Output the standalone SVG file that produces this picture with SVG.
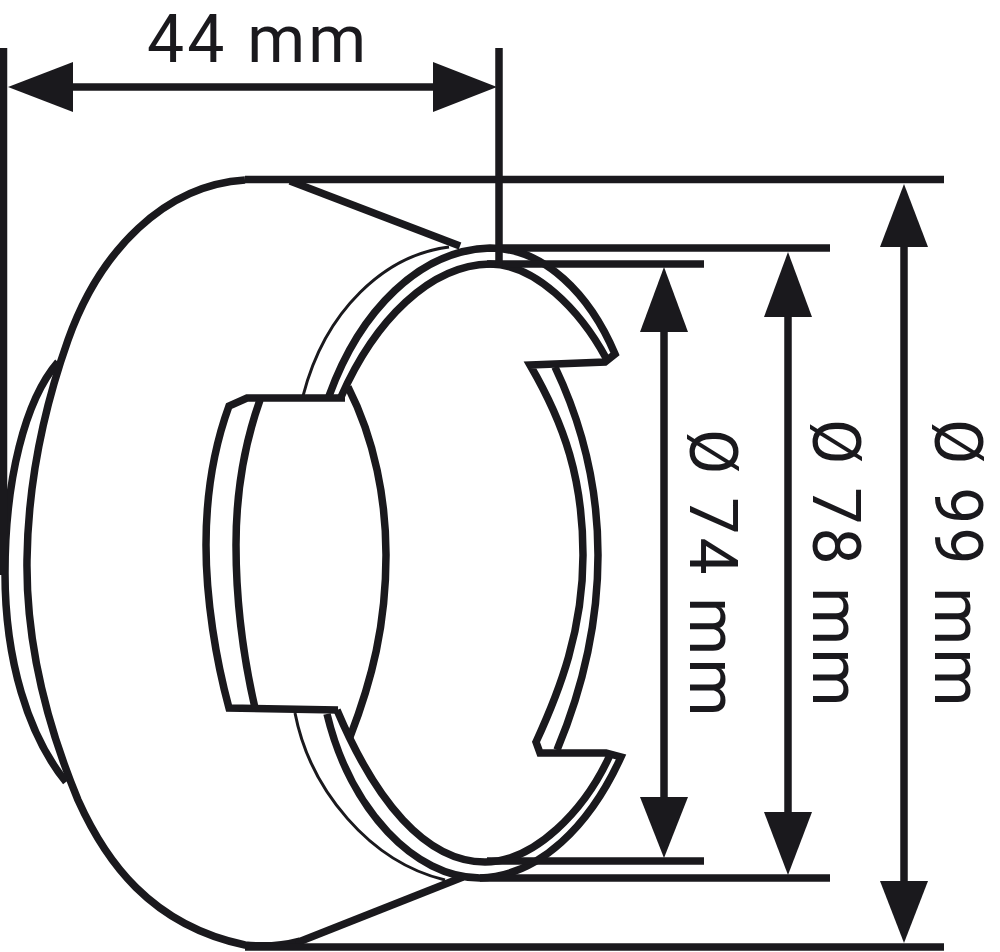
<svg xmlns="http://www.w3.org/2000/svg" width="1000" height="952" viewBox="0 0 1000 952">
<style>
.k{fill:none;stroke:#1a191d;stroke-width:7.5;stroke-linejoin:miter;stroke-linecap:butt}
.t{fill:none;stroke:#1a191d;stroke-width:3}
.d{fill:none;stroke:#1a191d;stroke-width:7.5}
.a{fill:#1a191d}
text{font-family:Roboto,"Open Sans",sans-serif;font-size:66px;letter-spacing:3.2px;fill:#1a191d}
</style>
<rect width="1000" height="952" fill="#fff"/>
<g id="body">
<path class="k" d="M245 180C165 185 100 250 68 340C45 405 28 480 27 560C26 640 45 720 78 800C105 860 150 925 245 945C265 947 285 945 300 941"/>
<path class="k" d="M58 362C25 400 5 480 5 573C5 660 28 735 66 782"/>
<path class="k" d="M290 181L460 246"/>
<path class="k" d="M296 943L463 877"/>
</g>
<g id="ring">
<path class="t" d="M303 396C325 310 385 255 449 247"/>
<path class="t" d="M295 713C310 790 370 862 445 880"/>
<path class="k" d="M329 396C360 310 420 250 490 248C545 248 590 295 615 354L605 362L530 365C565 425 583 480 583 555C583 630 560 690 536 742L540 753H606L621 757C590 825 540 876 480 878C415 878 350 810 327 714"/>
<path class="k" d="M341 397C375 320 430 265 490 264C535 264 580 310 606 358"/>
<path class="k" d="M555 367C585 430 598 490 598 555C598 630 580 695 557 750"/>
<path class="k" d="M337 710C375 800 425 862 485 862C535 862 585 810 610 755"/>
</g>
<g id="window">
<path class="k" d="M348 387C375 440 386 500 386 555C386 625 372 680 350 737"/>
<path class="k" d="M345 398H247L229 406C213 450 206 500 206 545C206 600 216 660 229 708L338 710"/>
<path class="k" d="M260 400C244 445 236 495 236 545C236 600 244 660 255 708"/>
</g>
<g id="connectors">
<path class="d" d="M245 179.500H944"/>
<path class="d" d="M245 947H944"/>
<path class="d" d="M487 264H704"/>
<path class="d" d="M500 248H830"/>
<path class="d" d="M480 878H830"/>
<path class="d" d="M487 861H704"/>
<path class="d" d="M499 48V266"/>
<path class="d" d="M3.500 48V575"/>
<path class="d" d="M60 87H445"/>
<path class="d" d="M904 240V885"/>
<path class="d" d="M788 310V820"/>
<path class="d" d="M664 325V805"/>
<path class="a" d="M8 87L73 62V112Z"/>
<path class="a" d="M497 87L433 62V112Z"/>
<path class="a" d="M904 184L880 247H928Z"/>
<path class="a" d="M904 943L880 881H928Z"/>
<path class="a" d="M788 252L764 317H812Z"/>
<path class="a" d="M788 875L764 812H812Z"/>
<path class="a" d="M664 267L640 332H688Z"/>
<path class="a" d="M664 858L640 797H688Z"/>
</g>
<g id="labels">
<text x="147" y="62">44 mm</text>
<text transform="translate(690 429) rotate(90)">Ø 74 mm</text>
<text transform="translate(813 419) rotate(90)">Ø 78 mm</text>
<text transform="translate(935 419) rotate(90)">Ø 99 mm</text>
</g>
</svg>
